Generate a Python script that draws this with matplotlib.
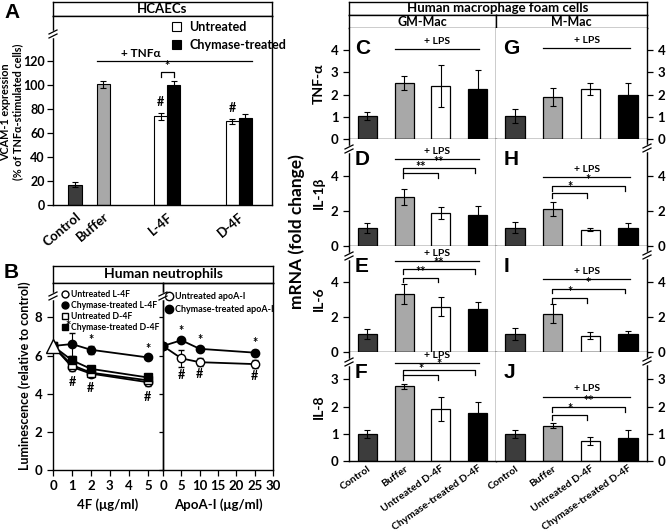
import matplotlib
matplotlib.use("Agg")
import matplotlib.pyplot as plt
from matplotlib.lines import Line2D

W, H = 666, 532
plt.rcParams["font.family"] = ["Lato", "DejaVu Sans"]
plt.rcParams["font.weight"] = "bold"
plt.rcParams["axes.linewidth"] = 1.0
plt.rcParams["xtick.direction"] = "out"
plt.rcParams["ytick.direction"] = "out"

# ---- panel A: VCAM-1 expression in HCAECs ----
a_single_labels = ["Control", "Buffer"]
a_single = [17, 101]
a_single_err = [2, 3]
a_pair_labels = ["L-4F", "D-4F"]
a_untreated = [74, 70]
a_untreated_err = [3, 2]
a_chymase = [100, 73]
a_chymase_err = [4, 3]

# ---- panel B: neutrophil luminescence ----
b_4f_dose = [0, 1, 2, 5]
b_untr_l4f = [6.5, 5.4, 5.05, 4.6]
b_untr_l4f_err = [0, 0.2, 0.2, 0.2]
b_chym_l4f = [6.5, 6.6, 6.3, 5.9]
b_chym_l4f_err = [0, 0.6, 0.2, 0.1]
b_untr_d4f = [6.5, 5.5, 5.1, 4.7]
b_untr_d4f_err = [0, 0.15, 0.2, 0.15]
b_chym_d4f = [6.5, 5.75, 5.3, 4.85]
b_chym_d4f_err = [0, 0.15, 0.15, 0.1]
b_apoa_dose = [0, 5, 10, 25]
b_untr_apoa = [6.5, 5.85, 5.65, 5.55]
b_untr_apoa_err = [0, 0.45, 0.2, 0.2]
b_chym_apoa = [6.5, 6.8, 6.35, 6.15]
b_chym_apoa_err = [0, 0.1, 0.1, 0.15]

# ---- panels C-J: macrophage foam cell mRNA ----
mac_groups = ["Control", "Buffer", "Untreated D-4F", "Chymase-treated D-4F"]
gm_tnfa = [1.03, 2.52, 2.38, 2.27]
gm_tnfa_err = [0.18, 0.33, 0.95, 0.85]
gm_il1b = [1.04, 2.79, 1.9, 1.75]
gm_il1b_err = [0.28, 0.47, 0.35, 0.55]
gm_il6 = [1.04, 3.32, 2.6, 2.45]
gm_il6_err = [0.28, 0.59, 0.52, 0.42]
gm_il8 = [1.0, 2.75, 1.91, 1.77]
gm_il8_err = [0.15, 0.09, 0.43, 0.41]
m_tnfa = [1.03, 1.89, 2.23, 1.98]
m_tnfa_err = [0.3, 0.42, 0.27, 0.55]
m_il1b = [1.04, 2.09, 0.94, 1.0]
m_il1b_err = [0.3, 0.4, 0.1, 0.3]
m_il6 = [1.04, 2.2, 0.92, 1.02]
m_il6_err = [0.35, 0.52, 0.2, 0.2]
m_il8 = [1.0, 1.3, 0.74, 0.86]
m_il8_err = [0.15, 0.08, 0.15, 0.27]

DARK, LIGHT = "#3c3c3c", "#a8a8a8"
bar_colors = [DARK, LIGHT, "white", "black"]

fig = plt.figure(figsize=(W / 100, H / 100), dpi=100)


def px_axes(x0, y0, x1, y1):
    return fig.add_axes([x0 / W, 1 - y1 / H, (x1 - x0) / W, (y1 - y0) / H])


def fxy(x, y):
    return x / W, 1 - y / H


def header(x0, y0, x1, y1, text, size=9.5):
    hx = px_axes(x0, y0, x1, y1)
    hx.set_xticks([])
    hx.set_yticks([])
    hx.text(0.5, 0.5, text, ha="center", va="center", fontsize=size, fontweight="bold")
    return hx


def break_mark(x, y):
    # small "//" on a spine, in figure pixels
    fig.add_artist(Line2D(*zip(fxy(x, y - 2), fxy(x, y + 2)), color="white", lw=2.5,
                          transform=fig.transFigure))
    for d in (-2, 2):
        fig.add_artist(Line2D(*zip(fxy(x - 4, y + d + 2), fxy(x + 4, y + d - 2)),
                              color="black", lw=0.9, transform=fig.transFigure))


def bracket(ax, x1, x2, y, h, label, size=9):
    ax.plot([x1, x1, x2, x2], [y - h, y, y, y - h], color="black", lw=0.9)
    ax.text((x1 + x2) / 2, y, label, ha="center", va="bottom", fontsize=size)


def panel_letter(x, y, s):
    fig.text(*fxy(x, y), s, fontsize=15, fontweight="bold", family="Liberation Sans",
             ha="left", va="center")


# ================= Panel A =================
header(53, 2, 272, 16, "HCAECs")
ax_a = px_axes(53, 16, 272, 205)
w = 0.46
single_pos = [0, 1]
pair_pos = [3.23, 5.74]
ax_a.bar(single_pos, a_single, w, yerr=a_single_err, color=[DARK, LIGHT], edgecolor="black",
         lw=0.8, error_kw=dict(lw=0.8, capsize=2, capthick=0.8))
b1 = ax_a.bar([p - w / 2 for p in pair_pos], a_untreated, w, yerr=a_untreated_err, color="white",
              edgecolor="black", lw=0.8, error_kw=dict(lw=0.8, capsize=2, capthick=0.8),
              label="Untreated")
b2 = ax_a.bar([p + w / 2 for p in pair_pos], a_chymase, w, yerr=a_chymase_err, color="black",
              edgecolor="black", lw=0.8, error_kw=dict(lw=0.8, capsize=2, capthick=0.8),
              label="Chymase-treated")
ax_a.set_xlim(-0.77, 6.91)
ax_a.set_ylim(0, 158)
ax_a.set_yticks(range(0, 121, 20))
ax_a.tick_params(axis="y", labelsize=9, length=4, width=0.9, pad=2)
ax_a.set_xticks(single_pos + pair_pos)
ax_a.set_xticklabels(a_single_labels + a_pair_labels, rotation=40, ha="right",
                     rotation_mode="anchor", fontsize=9.5)
ax_a.tick_params(axis="x", length=0, pad=4)
ax_a.plot([1 - w / 2, pair_pos[1] + w], [120, 120], color="black", lw=0.9)
ax_a.text(2.3, 122, "+ TNFα", ha="center", va="bottom", fontsize=8.5)
bracket(ax_a, pair_pos[0] - w / 2, pair_pos[0] + w / 2, 111, 4, "*", size=9)
ax_a.text(pair_pos[0] - w / 2, a_untreated[0] + a_untreated_err[0] + 4, "#", ha="center",
          va="bottom", fontsize=9)
ax_a.text(pair_pos[1] - w / 2, a_untreated[1] + a_untreated_err[1] + 4, "#", ha="center",
          va="bottom", fontsize=9)
ax_a.legend(handles=[b1, b2], loc="upper left", bbox_to_anchor=fxy(172, 21),
            bbox_transform=fig.transFigure, frameon=False, fontsize=9, handlelength=0.7,
            handleheight=0.7, handletextpad=0.7, labelspacing=0.45, borderpad=0,
            borderaxespad=0)
fig.text(*fxy(12, 112), "VCAM-1 expression\n(% of TNFα-stimulated cells)", rotation=90,
         ha="center", va="center", fontsize=7.8, fontweight="bold", linespacing=1.15)
break_mark(53, 34)
panel_letter(4, 12, "A")

# ================= Panel B =================
header(53, 266, 273, 283, "Human neutrophils", size=10)
ax_b1 = px_axes(53, 283, 163, 470)
ax_b2 = px_axes(163, 283, 273, 470)
ax_b2.patch.set_alpha(0)
mk = dict(color="black", lw=1.3, ms=6, mew=1.0, capsize=2, elinewidth=0.8)
ax_b1.errorbar(b_4f_dose, b_untr_l4f, yerr=b_untr_l4f_err, marker="o", mfc="white", **mk)
ax_b1.errorbar(b_4f_dose, b_untr_d4f, yerr=b_untr_d4f_err, marker="s", mfc="white", **mk)
ax_b1.errorbar(b_4f_dose, b_chym_d4f, yerr=b_chym_d4f_err, marker="s", mfc="black", **mk)
ax_b1.errorbar(b_4f_dose, b_chym_l4f, yerr=b_chym_l4f_err, marker="o", mfc="black", **mk)
ax_b1.plot(b_4f_dose[0], b_untr_l4f[0], marker="^", ms=10, mfc="white", mec="black", mew=1.0,
           clip_on=False, zorder=5)
ax_b1.set_xlim(0, 5.8)
ax_b1.set_ylim(0, 9.8)
ax_b1.set_xticks(range(0, 6))
ax_b1.set_yticks(range(0, 9, 2))
ax_b1.tick_params(labelsize=9.5, length=4, width=0.9)
ax_b1.set_xlabel("4F (μg/ml)", fontsize=9.5, fontweight="bold", labelpad=4)
for x, yv, e in zip(b_4f_dose[1:], b_chym_l4f[1:], b_chym_l4f_err[1:]):
    ax_b1.text(x - (0.2 if x == 1 else 0), yv + e + 0.02, "*", ha="center", va="bottom", fontsize=9)
for x, yv in zip(b_4f_dose[1:], b_untr_l4f[1:]):
    ax_b1.text(x, yv - 0.45, "#", ha="center", va="top", fontsize=9)
leg_labels = ["Untreated L-4F", "Chymase-treated L-4F", "Untreated D-4F", "Chymase-treated D-4F"]
leg_handles = [Line2D([], [], ls="none", marker=m, mfc=c, mec="black", ms=5)
               for m, c in [("o", "white"), ("o", "black"), ("s", "white"), ("s", "black")]]
ax_b1.legend(leg_handles, leg_labels, loc="upper left", bbox_to_anchor=fxy(62, 290),
             bbox_transform=fig.transFigure, frameon=False, fontsize=6.2, handlelength=0.6,
             handletextpad=0.4, labelspacing=0.25, borderpad=0, borderaxespad=0)

ax_b2.errorbar(b_apoa_dose, b_untr_apoa, yerr=b_untr_apoa_err, marker="o", mfc="white", **mk)
ax_b2.errorbar(b_apoa_dose, b_chym_apoa, yerr=b_chym_apoa_err, marker="o", mfc="black", **mk)
ax_b2.set_xlim(0, 30)
ax_b2.set_ylim(0, 9.8)
ax_b2.set_xticks(range(0, 31, 5))
ax_b2.set_yticks(range(0, 9, 2))
ax_b2.set_yticklabels([])
ax_b2.tick_params(labelsize=9.5, length=4, width=0.9)
ax_b2.tick_params(axis="y", length=3)
ax_b2.set_xlabel("ApoA-I (μg/ml)", fontsize=9.5, fontweight="bold", labelpad=4)
for x, yv, e in zip(b_apoa_dose[1:], b_chym_apoa[1:], b_chym_apoa_err[1:]):
    ax_b2.text(x, yv + e + 0.05, "*", ha="center", va="bottom", fontsize=9)
for x, yv, e in zip(b_apoa_dose[1:], b_untr_apoa[1:], b_untr_apoa_err[1:]):
    ax_b2.text(x, yv - e - 0.1, "#", ha="center", va="top", fontsize=9)
leg2 = [Line2D([], [], ls="none", marker="o", mfc=c, mec="black", ms=6) for c in ("white", "black")]
ax_b2.legend(leg2, ["Untreated apoA-I", "Chymase-treated apoA-I"], loc="upper left",
             bbox_to_anchor=fxy(166, 292), bbox_transform=fig.transFigure, frameon=False,
             fontsize=6.5, handlelength=0.6, handletextpad=0.4, labelspacing=0.45, borderpad=0,
             borderaxespad=0)
fig.text(*fxy(25, 376), "Luminescence (relative to control)", rotation=90, ha="center",
         va="center", fontsize=9, fontweight="bold")
break_mark(53, 296)
break_mark(163, 296)
panel_letter(4, 273, "B")

# ================= Panels C-J =================
header(349, 2, 647, 15, "Human macrophage foam cells", size=9.5)
header(349, 15, 496, 28, "GM-Mac", size=9)
header(496, 15, 647, 28, "M-Mac", size=9)

rows = [(28, 139), (139, 246), (246, 352), (352, 461)]
ylims = [5.0, 6.1, 6.06, 4.0]
yticks = [range(0, 5), range(0, 5, 2), range(0, 5, 2), range(0, 4)]
names = ["TNF-α", "IL-1β", "IL-6", "IL-8"]
gm_vals = [gm_tnfa, gm_il1b, gm_il6, gm_il8]
gm_errs = [gm_tnfa_err, gm_il1b_err, gm_il6_err, gm_il8_err]
m_vals = [m_tnfa, m_il1b, m_il6, m_il8]
m_errs = [m_tnfa_err, m_il1b_err, m_il6_err, m_il8_err]
letters_gm = ["C", "D", "E", "F"]
letters_m = ["G", "H", "I", "J"]
# (lps line y, [(x2, y, label), ...]) per panel
gm_sig = [(4.05, []), (4.95, [(2, 4.15, "**"), (3, 4.45, "**")]),
          (5.2, [(2, 4.25, "**"), (3, 4.73, "**")]), (3.58, [(2, 3.16, "*"), (3, 3.35, "*")])]
m_sig = [(4.1, []), (3.95, [(2, 3.0, "*"), (3, 3.4, "*")]),
         (4.19, [(2, 3.1, "*"), (3, 3.62, "*")]), (2.36, [(2, 1.69, "*"), (3, 1.99, "**")])]

pos = list(range(len(mac_groups)))
bw = 0.52
for r, (y0, y1) in enumerate(rows):
    for col, (x0, x1) in enumerate([(349, 496), (496, 647)]):
        ax = px_axes(x0, y0, x1, y1)
        vals = gm_vals[r] if col == 0 else m_vals[r]
        errs = gm_errs[r] if col == 0 else m_errs[r]
        ax.bar(pos, vals, bw, yerr=errs, color=bar_colors, edgecolor="black", lw=0.9,
               error_kw=dict(lw=0.8, capsize=2, capthick=0.8))
        ax.set_xlim(-0.5, 3.5)
        ax.set_ylim(0, ylims[r])
        ax.set_yticks(list(yticks[r]))
        ax.spines["top"].set_visible(False)
        ax.tick_params(axis="y", labelsize=9.5, length=4, width=0.9)
        if col == 1:
            ax.yaxis.tick_right()
            ax.spines["left"].set_visible(False)
        if r == 3:
            ax.set_xticks(pos)
            ax.set_xticklabels(mac_groups, rotation=35, ha="right", rotation_mode="anchor",
                               fontsize=7.5)
            ax.tick_params(axis="x", length=0, pad=2)
        else:
            ax.set_xticks([])
        lps_y, sigs = gm_sig[r] if col == 0 else m_sig[r]
        ax.plot([0.75, 3.05], [lps_y, lps_y], color="black", lw=0.9)
        ax.text(1.9, lps_y + 0.03 * ylims[r], "+ LPS", ha="center", va="bottom", fontsize=7.5)
        for x2, yb, lab in sigs:
            bracket(ax, 0.98, x2 - 0.08, yb, 0.045 * ylims[r], lab)
        ax.text(0.04 if col == 0 else 0.05, 0.9, (letters_gm if col == 0 else letters_m)[r],
                transform=ax.transAxes, fontsize=15, fontweight="bold",
                family="Liberation Sans", va="top", ha="left")
        if col == 0:
            fig.text(*fxy(319, (y0 + y1) / 2), names[r], rotation=90, ha="center",
                     va="center", fontsize=10, fontweight="bold")
    if r > 0:
        break_mark(349, y0 + 10)
        break_mark(647, y0 + 9)

fig.text(*fxy(297, 232), "mRNA (fold change)", rotation=90, ha="center", va="center",
         fontsize=12.5, fontweight="bold")

fig.savefig("out.png", dpi=100)
